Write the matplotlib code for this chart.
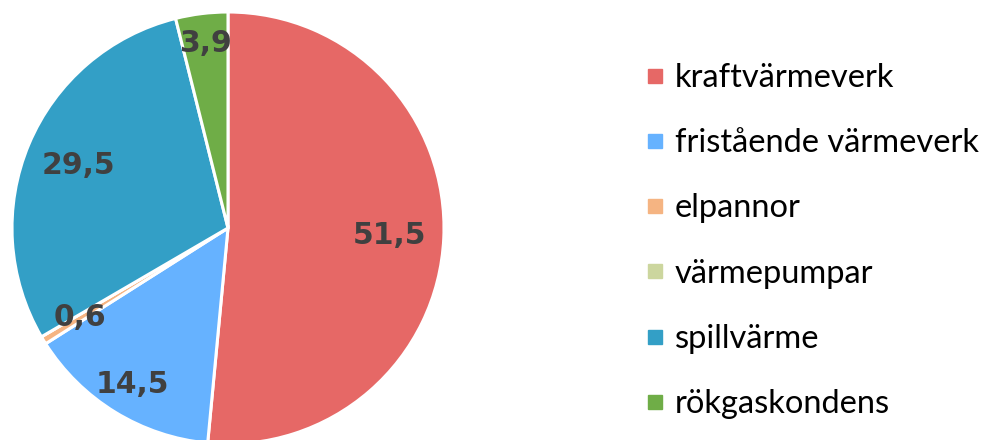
import matplotlib.pyplot as plt
from matplotlib.lines import Line2D
import numpy as np

# Data
categories = ["kraftvärmeverk", "fristående värmeverk", "elpannor",
              "värmepumpar", "spillvärme", "rökgaskondens"]
values = [51.5, 14.5, 0.6, 0.0, 29.5, 3.9]
colors = ["#E66866", "#66B2FF", "#F5B482", "#CCD69E", "#339FC6", "#6FAD47"]
label_dist = [0.75, 0.85, 0.80, 0.75, 0.75, 0.86]

fig = plt.figure(figsize=(9.88, 4.4), dpi=100)
ax = fig.add_axes([12 / 988, -4 / 440, 432 / 988, 432 / 440])

wedges, _ = ax.pie(values, colors=colors, startangle=90, counterclock=False,
                   radius=1, wedgeprops=dict(edgecolor="white", linewidth=2.2))
ax.set_xlim(-1, 1)
ax.set_ylim(-1, 1)
ax.set_aspect("equal")
ax.axis("off")

for w, v, d in zip(wedges, values, label_dist):
    if v == 0:
        continue
    ang = np.deg2rad((w.theta1 + w.theta2) / 2)
    ax.text(d * np.cos(ang), d * np.sin(ang), f"{v:.1f}".replace(".", ","),
            ha="center", va="center", fontsize=21.5, fontweight="bold",
            color="#404040", family="DejaVu Sans")

handles = [Line2D([], [], marker="s", linestyle="none", markersize=10.5,
                  markerfacecolor=c, markeredgecolor=c) for c in colors]
fig.legend(handles, categories, loc="center left",
           bbox_to_anchor=(626 / 988, 0.452), frameon=False, borderpad=0,
           prop=dict(family="Lato", size=23.5), handlelength=0.8,
           handletextpad=0.2, labelspacing=1.08)

fig.savefig("out.png", dpi=100)
